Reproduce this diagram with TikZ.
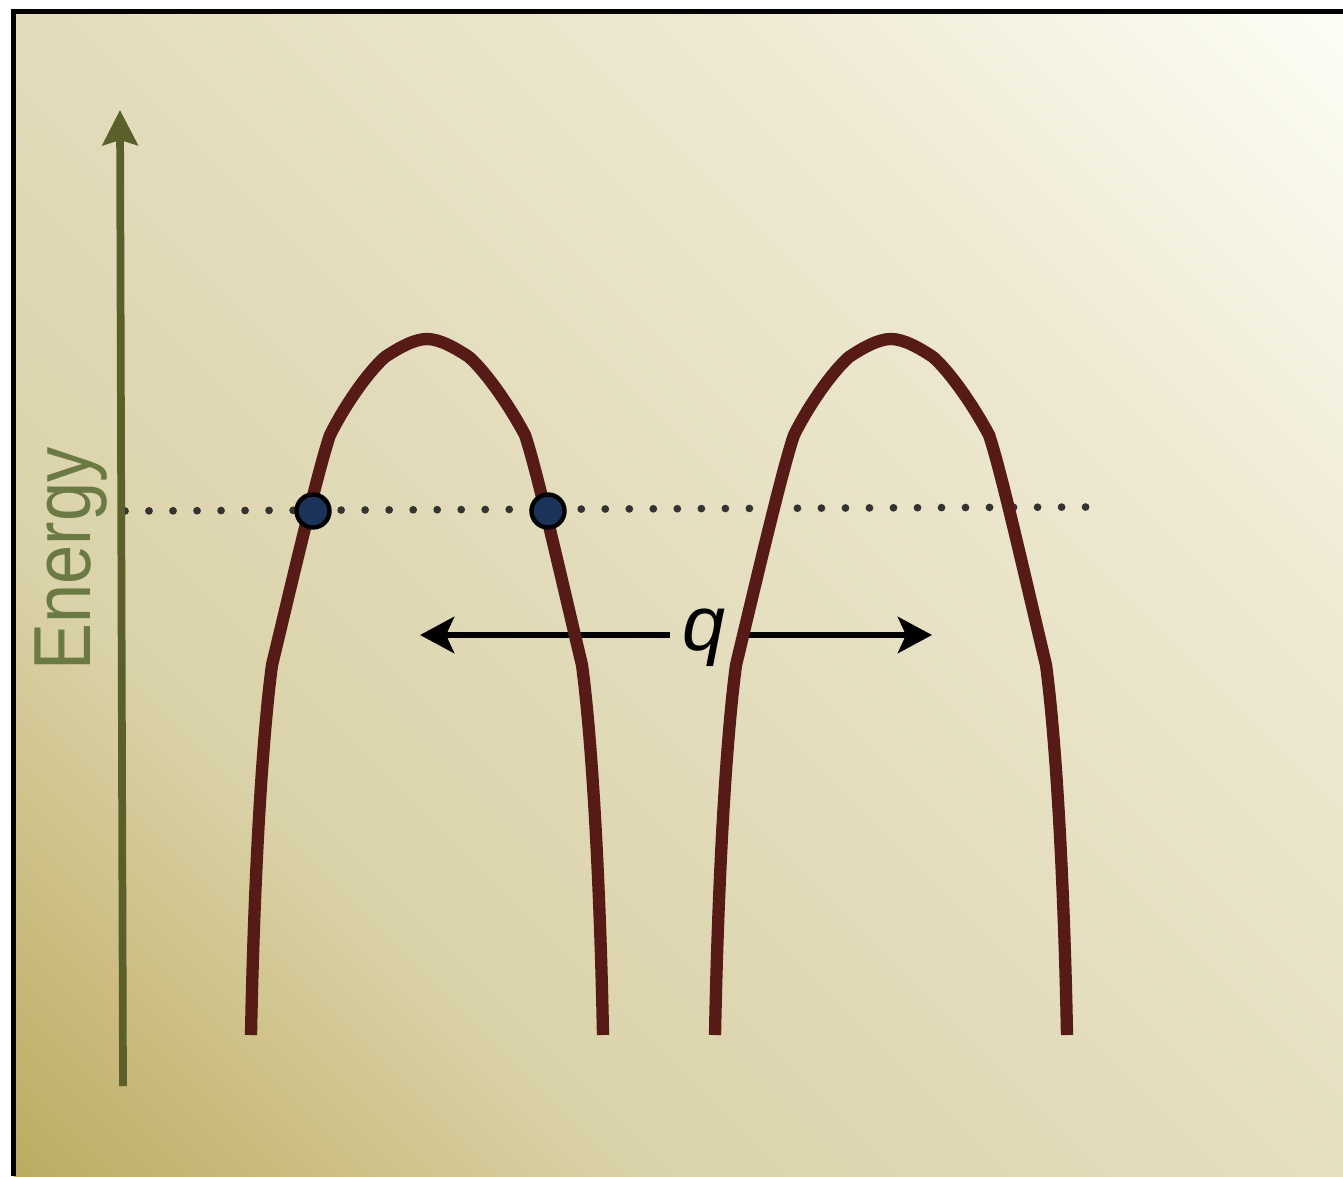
\documentclass[tikz,border=0pt]{standalone}
\usepackage{fontspec}
\setmainfont{Liberation Sans}
\usetikzlibrary{arrows.meta, positioning}
\definecolor{bgA}{HTML}{BCAC62}
\definecolor{bgB}{HTML}{CDBF85}
\definecolor{bgC}{HTML}{DAD2A8}
\definecolor{bgD}{HTML}{E4DDBE}
\definecolor{bgE}{HTML}{EEE9D2}
\definecolor{bgF}{HTML}{FDFDF5}
\definecolor{axisolive}{HTML}{5B602A}
\definecolor{labelolive}{HTML}{6B7A42}
\definecolor{wellred}{HTML}{561A17}
\definecolor{dotgray}{HTML}{333333}
\definecolor{ballblue}{HTML}{1B3358}
\pgfdeclarehorizontalshading{bgshade}{100bp}{color(0bp)=(bgA); color(14.6bp)=(bgA);
  color(23.8bp)=(bgB); color(32.3bp)=(bgC); color(50bp)=(bgD); color(67.7bp)=(bgE);
  color(85.4bp)=(bgF); color(100bp)=(bgF)}

\begin{document}
\begin{tikzpicture}[x=0.01cm, y=-0.01cm,
  axis/.style={draw=axisolive, line width=2.2pt, -{Stealth[length=0.35cm, width=0.35cm, inset=0.05cm]}},
  level/.style={draw=dotgray, line width=2.2pt, line cap=round, dash pattern=on 0pt off 0.24cm},
  barrier/.style={draw=wellred, line width=3.5pt},
  ball/.style={circle, draw=black, line width=1.25pt, fill=ballblue, minimum size=0.33cm, inner sep=0pt},
  shiftarrow/.style={draw=black, line width=1.8pt, -{Stealth[length=0.34cm, width=0.36cm, inset=0.08cm]}}
]
\clip (0,0) rectangle (1343,1176);

% Background and frame
\shade[shading=bgshade, shading angle=45] (13.5,11.5) rectangle (1343,1176);
\draw[line width=1.5pt] (13.5,1176) -- (13.5,11.5) -- (1343,11.5);

% Energy level
\coordinate (dl) at (125,511);
\coordinate (dr) at (1087,507);
\draw[level] (dl) -- (dr);

% Displacement q
\node[font=\fontsize{22}{22}\selectfont\itshape, anchor=base, inner xsep=3.4pt] (q) at (704,650) {q};
\coordinate (ql) at (420,635);
\coordinate (qr) at (932,635);
\draw[shiftarrow] (ql -| q.west) -- (ql);
\draw[shiftarrow] (qr -| q.east) -- (qr);

% Barriers
\foreach \dx in {0,464} {
  \draw[barrier, shift={(\dx,0)}] (251,1035) .. controls (254,880) and (262,740) .. (272,665)
    .. controls (290,590) and (318,470) .. (330,435)
    .. controls (345,405) and (368,372) .. (385,357)
    .. controls (400,347) and (415,339) .. (427,339)
    .. controls (439,339) and (454,347) .. (469,357)
    .. controls (486,372) and (509,405) .. (525,435)
    .. controls (537,470) and (564,590) .. (582,665)
    .. controls (592,740) and (600,880) .. (603,1035);
}

% Turning points
\node[ball] (b1) at (313,511) {};
\node[ball] (b2) at (548,511) {};

% Energy axis
\coordinate (ebot) at (123,1086);
\coordinate (etop) at (120,110);
\draw[axis] (ebot) -- (etop);
\node[rotate=90, anchor=base, text=labelolive, font=\fontsize{23}{23}\selectfont] (elabel) at (90,559) {\scalebox{0.87}[1]{Energy}};
\end{tikzpicture}
\end{document}
